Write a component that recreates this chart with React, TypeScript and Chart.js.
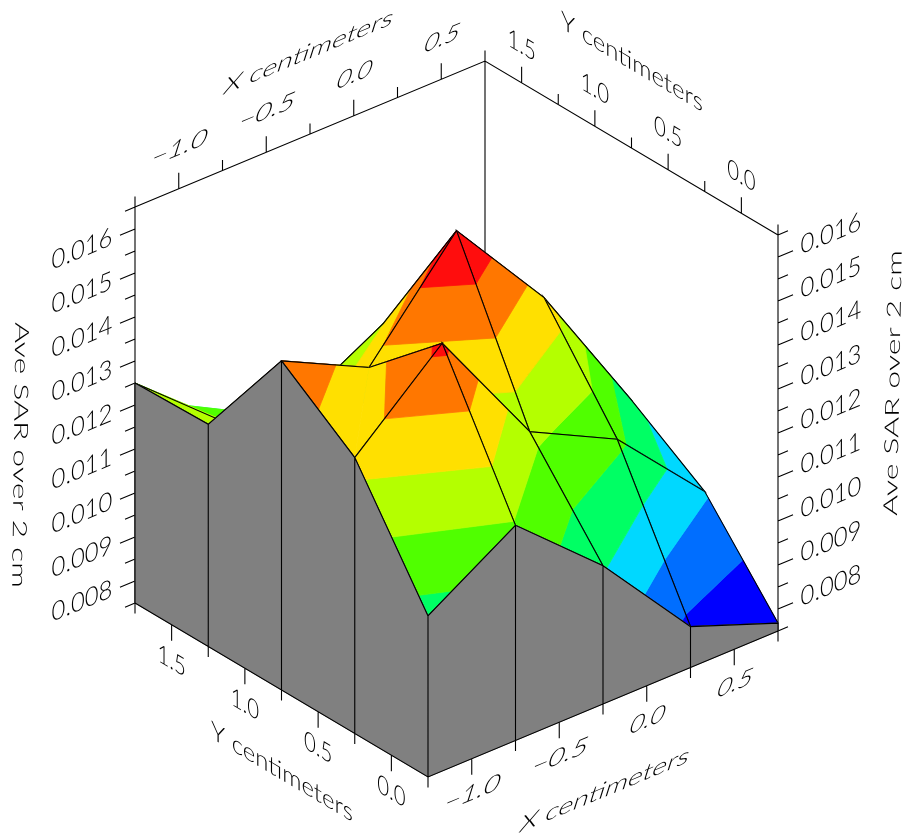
import React, { useEffect, useRef } from "react";
import { Chart, registerables } from "chart.js";

Chart.register(...registerables);

// ---- data ----
const xGrid = [-1.25, -0.75, -0.25, 0.25, 0.75];
const yGrid = [-0.25, 0.25, 0.75, 1.25, 1.75];
const sarAtYm025 = [0.01116, 0.01239, 0.01064, 0.00843, 0.00768];
const sarAtY025 = [0.01377, 0.01554, 0.0127, 0.0117, 0.00968];
const sarAtY075 = [0.01498, 0.014, 0.01628, 0.01393, 0.01077];
const sarAtY125 = [0.01255, 0.01209, 0.01318, 0.0115, 0.0102];
const sarAtY175 = [0.0125, 0.0108, 0.0105, 0.0095, 0.0088];
const sarRows = [sarAtYm025, sarAtY025, sarAtY075, sarAtY125, sarAtY175];

const contourLevels = [0.00864, 0.00959, 0.01055, 0.0115, 0.01246, 0.01341, 0.01437, 0.01533];
const bandColors = ["#0000ff", "#006eff", "#00d8ff", "#00ff64", "#50ff00", "#b4ff00", "#ffe000", "#ff7700", "#ff0d0d"];

const xMajorTicks = [-1, -0.5, 0, 0.5];
const xMinorTicks = [-1.25, -0.75, -0.25, 0.25, 0.75];
const yMajorTicks = [0, 0.5, 1, 1.5];
const yMinorTicks = [-0.25, 0.25, 0.75, 1.25, 1.75];
const zMajorTicks = [0.008, 0.009, 0.01, 0.011, 0.012, 0.013, 0.014, 0.015, 0.016];
const zMinorTicks = [0.0075, 0.0085, 0.0095, 0.0105, 0.0115, 0.0125, 0.0135, 0.0145, 0.0155, 0.0165];
const xTickLabels = ["\u22121.0", "\u22120.5", "0.0", "0.5"];
const yTickLabels = ["0.0", "0.5", "1.0", "1.5"];
const zTickLabels = ["0.008", "0.009", "0.010", "0.011", "0.012", "0.013", "0.014", "0.015", "0.016"];
const xTitle = "X centimeters";
const yTitle = "Y centimeters";
const zTitle = "Ave SAR over 2 cm";

// ---- view box ----
const X0 = -1.25, X1 = 0.75, Y0 = -0.25, Y1 = 1.75, Z0 = 0.0075, Z1 = 0.0165;
const W = 905, H = 836;
const FONT_FAMILY = "Lato";
const FONT_WEIGHT = 300;

type P = { x: number; y: number };
type V3 = [number, number, number];

function project([X, Y, Z]: V3): P {
  const tx = (X - X0) / (X1 - X0);
  const ty = (Y - Y0) / (Y1 - Y0);
  const tz = (Z - Z0) / (Z1 - Z0);
  return { x: 428 + 350 * tx - 293 * ty, y: 777 - 146 * tx - 174 * ty - 396 * tz };
}

function clipAt(poly: V3[], level: number, keepAbove: boolean): V3[] {
  const out: V3[] = [];
  const inside = (p: V3) => (keepAbove ? p[2] >= level : p[2] <= level);
  for (let k = 0; k < poly.length; k++) {
    const a = poly[k];
    const b = poly[(k + 1) % poly.length];
    const ia = inside(a), ib = inside(b);
    if (ia) out.push(a);
    if (ia !== ib) {
      const t = (level - a[2]) / (b[2] - a[2]);
      out.push([a[0] + t * (b[0] - a[0]), a[1] + t * (b[1] - a[1]), level]);
    }
  }
  return out;
}

function polyDataset(points: V3[], color: string) {
  const pts = points.map(project);
  pts.push(pts[0]);
  return {
    data: pts,
    showLine: true,
    fill: "shape",
    backgroundColor: color,
    borderColor: color,
    borderWidth: 0.8,
    pointRadius: 0,
    tension: 0,
  };
}

function lineDataset(segments: V3[][], width = 1.1) {
  const data: P[] = [];
  segments.forEach((s) => {
    s.forEach((p) => data.push(project(p)));
    data.push({ x: NaN, y: NaN });
  });
  return {
    data,
    showLine: true,
    fill: false,
    borderColor: "#000000",
    borderWidth: width,
    pointRadius: 0,
    tension: 0,
    spanGaps: false,
  };
}

function tickSegs(values: number[], at: (v: number) => V3, to: (v: number) => V3): V3[][] {
  return values.map((v) => [at(v), to(v)]);
}

function buildDatasets() {
  const list: any[] = [];
  const TICK_MAJOR = 0.000364;
  const TICK_MINOR = 0.00024;
  const ZT_MAJOR = 0.086;
  const ZT_MINOR = 0.057;

  // back frame and upper axes
  list.push(
    lineDataset([
      [[X0, Y1, Z1], [X1, Y1, Z1], [X1, Y0, Z1]],
      [[X1, Y1, Z0], [X1, Y1, Z1]],
      [[X0, Y1, Z0], [X0, Y1, Z1]],
      [[X1, Y0, Z0], [X1, Y0, Z1]],
      ...tickSegs(xMajorTicks, (v) => [v, Y1, Z1], (v) => [v, Y1, Z1 + TICK_MAJOR]),
      ...tickSegs(xMinorTicks, (v) => [v, Y1, Z1], (v) => [v, Y1, Z1 + TICK_MINOR]),
      ...tickSegs(yMajorTicks, (v) => [X1, v, Z1], (v) => [X1, v, Z1 + TICK_MAJOR]),
      ...tickSegs(yMinorTicks, (v) => [X1, v, Z1], (v) => [X1, v, Z1 + TICK_MINOR]),
      ...tickSegs(zMajorTicks, (z) => [X0, Y1, z], (z) => [X0 - ZT_MAJOR, Y1, z]),
      ...tickSegs(zMinorTicks, (z) => [X0, Y1, z], (z) => [X0 - ZT_MINOR, Y1, z]),
      ...tickSegs(zMajorTicks, (z) => [X1, Y0, z], (z) => [X1 + ZT_MAJOR, Y0, z]),
      ...tickSegs(zMinorTicks, (z) => [X1, Y0, z], (z) => [X1 + ZT_MINOR, Y0, z]),
    ]),
  );

  const addBands = (shape: V3[]) => {
    bandColors.forEach((color, b) => {
      let poly = shape;
      if (b > 0) poly = clipAt(poly, contourLevels[b - 1], true);
      if (poly.length && b < contourLevels.length) poly = clipAt(poly, contourLevels[b], false);
      if (poly.length >= 3) list.push(polyDataset(poly, color));
    });
  };

  // surface, back to front; saddle cells fold along their lower diagonal
  for (let j = yGrid.length - 2; j >= 0; j--) {
    for (let i = xGrid.length - 2; i >= 0; i--) {
      const a: V3 = [xGrid[i], yGrid[j], sarRows[j][i]];
      const b: V3 = [xGrid[i + 1], yGrid[j], sarRows[j][i + 1]];
      const c: V3 = [xGrid[i + 1], yGrid[j + 1], sarRows[j + 1][i + 1]];
      const d: V3 = [xGrid[i], yGrid[j + 1], sarRows[j + 1][i]];
      const saddle = (a[2] - b[2]) * (c[2] - b[2]) > 0 && (a[2] - d[2]) * (c[2] - d[2]) > 0 && (a[2] - b[2]) * (a[2] - d[2]) > 0;
      if (saddle && a[2] > b[2]) {
        // b and d are the low corners
        addBands([b, c, d]);
        list.push(lineDataset([[b, c, d]]));
        addBands([a, b, d]);
        list.push(lineDataset([[b, a, d]]));
      } else if (saddle) {
        // a and c are the low corners
        addBands([a, c, d]);
        list.push(lineDataset([[a, d, c]]));
        addBands([a, b, c]);
        list.push(lineDataset([[a, b, c]]));
      } else {
        addBands([a, b, c, d]);
        list.push(lineDataset([[a, b, c, d, a]]));
      }
    }
  }

  // side walls
  for (let i = 0; i < xGrid.length - 1; i++) {
    list.push(
      polyDataset(
        [
          [xGrid[i], Y0, Z0],
          [xGrid[i + 1], Y0, Z0],
          [xGrid[i + 1], Y0, sarRows[0][i + 1]],
          [xGrid[i], Y0, sarRows[0][i]],
        ],
        "#808080",
      ),
    );
  }
  for (let j = 0; j < yGrid.length - 1; j++) {
    list.push(
      polyDataset(
        [
          [X0, yGrid[j], Z0],
          [X0, yGrid[j + 1], Z0],
          [X0, yGrid[j + 1], sarRows[j + 1][0]],
          [X0, yGrid[j], sarRows[j][0]],
        ],
        "#808080",
      ),
    );
  }
  const wallLines: V3[][] = [];
  wallLines.push(xGrid.map((x, i): V3 => [x, Y0, sarRows[0][i]]));
  wallLines.push(yGrid.map((y, j): V3 => [X0, y, sarRows[j][0]]));
  xGrid.forEach((x, i) => wallLines.push([[x, Y0, Z0], [x, Y0, sarRows[0][i]]]));
  yGrid.forEach((y, j) => wallLines.push([[X0, y, Z0], [X0, y, sarRows[j][0]]]));
  wallLines.push([[X0, Y1, Z0], [X0, Y0, Z0], [X1, Y0, Z0]]);
  wallLines.push(...tickSegs(xMajorTicks, (v) => [v, Y0, Z0], (v) => [v, Y0, Z0 - TICK_MAJOR]));
  wallLines.push(...tickSegs(xMinorTicks, (v) => [v, Y0, Z0], (v) => [v, Y0, Z0 - TICK_MINOR]));
  wallLines.push(...tickSegs(yMajorTicks, (v) => [X0, v, Z0], (v) => [X0, v, Z0 - TICK_MAJOR]));
  wallLines.push(...tickSegs(yMinorTicks, (v) => [X0, v, Z0], (v) => [X0, v, Z0 - TICK_MINOR]));
  list.push(lineDataset(wallLines));

  return list.map((d, idx) => ({ ...d, order: -idx }));
}

// ---- sloped text, laid out on the plotted axes ----
const unit = (a: number, b: number): P => {
  const n = Math.hypot(a, b);
  return { x: a / n, y: b / n };
};
const xDir = unit(350, -146);
const yDir = unit(293, 174);
const UP: P = { x: 0, y: -1 };
const SLANT: P = unit(0.3, -0.95);

type Label = { text: string; at: V3; dx: number; dy: number; u: P; v: P; size: number; width?: number; scale?: number };

function buildLabels(): Label[] {
  const out: Label[] = [];
  zTickLabels.forEach((text, k) => {
    const z = zMajorTicks[k];
    out.push({ text, at: [X0, Y1, z], dx: -53, dy: 20, u: xDir, v: UP, size: 26, width: 66 });
    out.push({ text, at: [X1, Y0, z], dx: 53, dy: -23.5, u: xDir, v: UP, size: 26, width: 66 });
  });
  xTickLabels.forEach((text, k) => {
    const x = xMajorTicks[k];
    const w = text.length === 4 ? 60 : 38;
    out.push({ text, at: [x, Y1, Z1], dx: 1, dy: -41, u: xDir, v: SLANT, size: 26, width: w });
    out.push({ text, at: [x, Y0, Z0], dx: 1, dy: 34, u: xDir, v: SLANT, size: 26, width: w });
  });
  yTickLabels.forEach((text, k) => {
    const y = yMajorTicks[k];
    out.push({ text, at: [X1, y, Z1], dx: 0, dy: -37.5, u: yDir, v: UP, size: 26, width: 33 });
    out.push({ text, at: [X0, y, Z0], dx: 0, dy: 36, u: yDir, v: UP, size: 26, width: 33 });
  });
  const c: V3 = [X0, Y0, Z0];
  const origin = project(c);
  const abs = (px: number, py: number) => ({ at: c, dx: px - origin.x, dy: py - origin.y });
  out.push({ text: xTitle, ...abs(309, 52), u: xDir, v: SLANT, size: 25, width: 183 });
  out.push({ text: xTitle, ...abs(605, 790), u: xDir, v: SLANT, size: 25, width: 183 });
  out.push({ text: yTitle, ...abs(632, 62), u: yDir, v: UP, size: 25, width: 165 });
  out.push({ text: yTitle, ...abs(282, 772), u: yDir, v: UP, size: 25, width: 165 });
  out.push({ text: zTitle, ...abs(20, 455), u: unit(-0.012, 1), v: { x: 1, y: 0 }, size: 19.5, width: 266 });
  out.push({ text: zTitle, ...abs(893, 383), u: unit(0.018, -1), v: { x: -1, y: 0 }, size: 19.5, width: 266 });
  return out;
}

const labelPlugin = {
  id: "slopedLabels",
  afterDatasetsDraw(chart: any) {
    const { ctx, scales } = chart;
    buildLabels().forEach((l) => {
      const p = project(l.at);
      const ax = scales.x.getPixelForValue(p.x + l.dx);
      const ay = scales.y.getPixelForValue(p.y + l.dy);
      ctx.save();
      ctx.font = `${FONT_WEIGHT} ${l.size}px ${FONT_FAMILY}`;
      ctx.fillStyle = "#000000";
      ctx.textAlign = "center";
      ctx.textBaseline = "middle";
      const s = l.width ? l.width / ctx.measureText(l.text).width : l.scale ?? 1;
      ctx.transform(l.u.x * s, l.u.y * s, -l.v.x, -l.v.y, ax, ay);
      ctx.fillText(l.text, 0, 0);
      ctx.restore();
    });
  },
};

export default function App() {
  const ref = useRef<HTMLCanvasElement>(null);
  useEffect(() => {
    const chart = new Chart(ref.current as HTMLCanvasElement, {
      type: "scatter",
      data: { datasets: buildDatasets() as any },
      options: {
        animation: false,
        responsive: false,
        devicePixelRatio: 1,
        layout: { padding: 0 },
        plugins: { legend: { display: false }, tooltip: { enabled: false } },
        events: [],
        scales: {
          x: { type: "linear", min: 0, max: W, display: false },
          y: { type: "linear", min: 0, max: H, reverse: true, display: false },
        },
      },
      plugins: [labelPlugin],
    } as any);
    return () => chart.destroy();
  }, []);
  return (
    <div style={{ position: "absolute", left: 0, top: 0, width: W, height: H, background: "#fff" }}>
      <canvas ref={ref} width={W} height={H} style={{ display: "block" }} />
    </div>
  );
}
